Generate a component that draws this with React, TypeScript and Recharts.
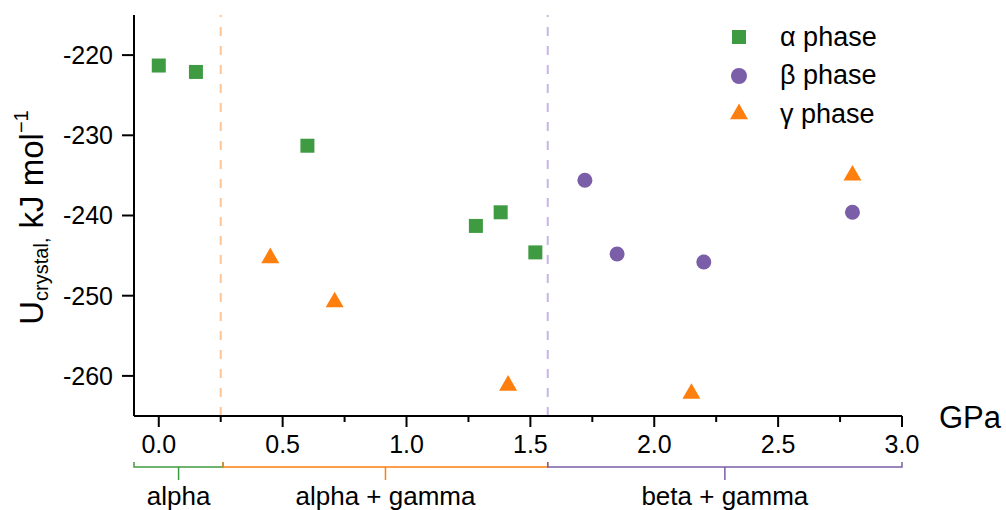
import React from 'react';
import { ScatterChart, Scatter, XAxis, YAxis, ReferenceLine, ReferenceArea, Legend } from 'recharts';

// pressure (GPa) and lattice energy (kJ/mol)
const alphaPressure = [0.0, 0.15, 0.6, 1.28, 1.38, 1.52];
const alphaEnergy = [-221.3, -222.1, -231.3, -241.3, -239.6, -244.6];
const betaPressure = [1.72, 1.85, 2.2, 2.8];
const betaEnergy = [-235.6, -244.8, -245.8, -239.6];
const gammaPressure = [0.45, 0.71, 1.41, 2.15, 2.8];
const gammaEnergy = [-245.3, -250.8, -261.2, -262.2, -235.0];

const xTicks = [0, 0.25, 0.5, 0.75, 1.0, 1.25, 1.5, 1.75, 2.0, 2.25, 2.5, 2.75, 3.0];
const yTicks = [-260, -250, -240, -230, -220];

const transitions = [0.25, 1.57];
const transitionColors = ['#fdc496', '#c6b6e4'];

const regionEdges = [-0.1, 0.26, 1.57, 3.0];
const regionLabels = ['alpha', 'alpha + gamma', 'beta + gamma'];

const GREEN = '#3f9b42';
const PURPLE = '#7b5ea8';
const ORANGE = '#ff7f0e';
const regionColors = [GREEN, ORANGE, PURPLE];

const toPoints = (p: number[], u: number[]) => p.map((v, i) => ({ p: v, u: u[i] }));
const alphaData = toPoints(alphaPressure, alphaEnergy);
const betaData = toPoints(betaPressure, betaEnergy);
const gammaData = toPoints(gammaPressure, gammaEnergy);

const FONT = '"Liberation Sans", Arial, sans-serif';

const Square = ({ cx, cy }: any) => <rect x={cx - 7} y={cy - 7} width={14} height={14} fill={GREEN} />;
const Dot = ({ cx, cy }: any) => <circle cx={cx} cy={cy} r={7.5} fill={PURPLE} />;
const Tri = ({ cx, cy }: any) => (
  <polygon points={`${cx},${cy - 10.4} ${cx - 9},${cy + 5.2} ${cx + 9},${cy + 5.2}`} fill={ORANGE} />
);

const legendMarker = (type: string, color: string) => {
  if (type === 'square') return <rect x={7} y={7} width={14} height={14} fill={color} />;
  if (type === 'circle') return <circle cx={14} cy={14} r={8} fill={color} />;
  return <polygon points="14,3.6 5,19.2 23,19.2" fill={color} />;
};

const PhaseLegend = ({ payload }: any) => (
  <div style={{ fontFamily: FONT }}>
    {(payload || []).map((entry: any) => (
      <div key={entry.value} style={{ display: 'flex', alignItems: 'center', height: 38.5 }}>
        <svg width={28} height={28}>{legendMarker(entry.type, entry.color)}</svg>
        <span style={{ marginLeft: 27, fontSize: 27, color: '#000' }}>{entry.value}</span>
      </div>
    ))}
  </div>
);

const XTick = ({ x, y, payload }: any) => {
  const v = payload.value;
  const major = Math.abs(v * 2 - Math.round(v * 2)) < 1e-6;
  return (
    <g>
      <line x1={x} x2={x} y1={y} y2={y + (major ? 11 : 6)} stroke="#000" strokeWidth={2} />
      {major && (
        <text x={x} y={y + 37} textAnchor="middle" fontSize={25} fill="#000">
          {v.toFixed(1)}
        </text>
      )}
    </g>
  );
};

const YLabel = (props: any) => {
  const vb = props.viewBox || { x: 0, y: 15, width: 134, height: 401 };
  const bx = vb.x + 43;
  const by = vb.y + vb.height / 2 + 2;
  return (
    <text x={bx} y={by} transform={`rotate(-90, ${bx}, ${by})`} textAnchor="middle" fontSize={33} fill="#000">
      U
      <tspan fontSize={20} dy={5}>crystal,</tspan>
      <tspan dy={-5}> kJ mol</tspan>
      <tspan fontSize={20} dy={-15}>−1</tspan>
    </text>
  );
};

const UnitLabel = (props: any) => {
  const vb = props.viewBox || { x: 134, y: 416, width: 768, height: 94 };
  return (
    <text x={vb.x + vb.width + 37} y={vb.y + 12} fontSize={31} fill="#000">
      GPa
    </text>
  );
};

const bracket = (label: string, color: string) => (props: any) => {
  const { x, y, width, height } = props;
  const base = y + height + 51;
  const mid = x + width / 2;
  return (
    <g>
      <path
        d={`M${x},${base - 5}V${base}H${x + width}V${base - 5}M${mid},${base}V${base + 13}`}
        stroke={color}
        strokeWidth={1.5}
        fill="none"
      />
      <text x={mid} y={base + 38} textAnchor="middle" fontSize={26} fill="#000">
        {label}
      </text>
    </g>
  );
};

export default function App() {
  return (
    <div style={{ position: 'absolute', left: 0, top: 0, width: 1006, height: 510, fontFamily: FONT, background: '#fff' }}>
      <ScatterChart width={1006} height={510} margin={{ top: 15, right: 104, bottom: 0, left: 0 }}>
        <XAxis
          type="number"
          dataKey="p"
          domain={[-0.1, 3.0]}
          ticks={xTicks}
          interval={0}
          allowDataOverflow
          height={94}
          tickSize={0}
          tickMargin={0}
          tickLine={false}
          tick={<XTick />}
          axisLine={{ stroke: '#000', strokeWidth: 2 }}
          label={<UnitLabel />}
        />
        <YAxis
          type="number"
          dataKey="u"
          domain={[-265, -215]}
          ticks={yTicks}
          allowDataOverflow
          width={134}
          tickSize={12}
          tickMargin={9}
          tick={{ fontSize: 25, fill: '#000' }}
          tickLine={{ stroke: '#000', strokeWidth: 2 }}
          axisLine={{ stroke: '#000', strokeWidth: 2 }}
          label={<YLabel />}
        />
        {transitions.map((t, i) => (
          <ReferenceLine key={t} x={t} stroke={transitionColors[i]} strokeWidth={2} strokeDasharray="9 10" />
        ))}
        {regionLabels.map((label, i) => (
          <ReferenceArea
            key={label}
            x1={regionEdges[i]}
            x2={regionEdges[i + 1]}
            ifOverflow="visible"
            shape={bracket(label, regionColors[i])}
          />
        ))}
        <Legend
          layout="vertical"
          align="center"
          verticalAlign="middle"
          wrapperStyle={{ left: 725, top: 18, width: 240 }}
          content={<PhaseLegend />}
        />
        <Scatter name="α phase" data={alphaData} fill={GREEN} legendType="square" shape={<Square />} isAnimationActive={false} />
        <Scatter name="β phase" data={betaData} fill={PURPLE} legendType="circle" shape={<Dot />} isAnimationActive={false} />
        <Scatter name="γ phase" data={gammaData} fill={ORANGE} legendType="triangle" shape={<Tri />} isAnimationActive={false} />
      </ScatterChart>
    </div>
  );
}
